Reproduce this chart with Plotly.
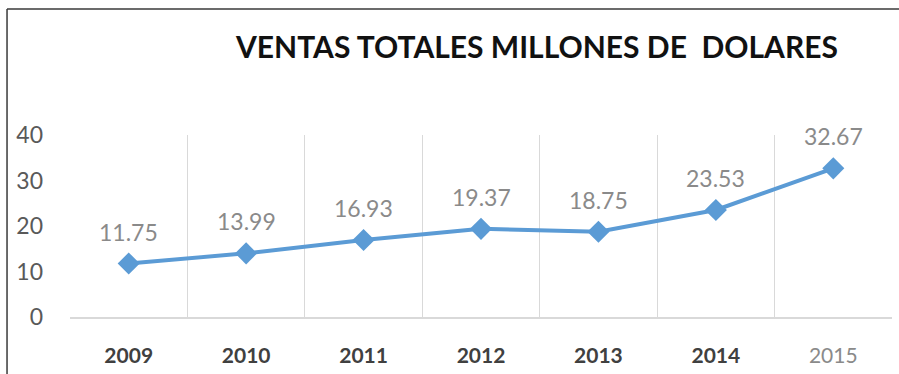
import plotly.graph_objects as go

years = ["2009", "2010", "2011", "2012", "2013", "2014", "2015"]
ventas = [11.75, 13.99, 16.93, 19.37, 18.75, 23.53, 32.67]
y_ticks = [0, 10, 20, 30, 40]
title_text = "VENTAS TOTALES MILLONES DE  DOLARES"

FONT = "Lato"
ticktext = [f"<b>{y}</b>" for y in years[:-1]] + [f"<span style='color:#8a8a8a'>{years[-1]}</span>"]

fig = go.Figure()
fig.add_trace(go.Scatter(
    x=years, y=ventas, mode="lines+markers",
    line=dict(color="#5B9BD5", width=4),
    marker=dict(symbol="diamond", size=17, color="#5B9BD5"),
    hoverinfo="x+y", showlegend=False, cliponaxis=False,
))

for i, v in enumerate(ventas):
    fig.add_annotation(x=i, y=v, xref="x", yref="y", text=f"{v:.2f}", showarrow=False, yshift=32,
                       font=dict(family=FONT, size=23, color="#8a8a8a"))

fig.add_annotation(xref="paper", yref="paper", x=0.568, y=1.49, text=f"<b>{title_text}</b>",
                   showarrow=False, xanchor="center", yanchor="middle",
                   font=dict(family=FONT, size=30, color="#111111"))

# outer border (top + left)
fig.add_shape(type="line", xref="paper", yref="paper", x0=-0.0766, x1=1.02, y0=1.692, y1=1.692,
              line=dict(color="#3a3a3a", width=1.5))
fig.add_shape(type="line", xref="paper", yref="paper", x0=-0.0766, x1=-0.0766, y0=1.692, y1=-0.35,
              line=dict(color="#3a3a3a", width=1.5))

fig.update_layout(
    width=899, height=374,
    margin=dict(l=70, r=7, t=135, b=54),
    paper_bgcolor="white", plot_bgcolor="white",
    font=dict(family=FONT),
    xaxis=dict(
        type="category", range=[-0.5, 6.5], tickson="boundaries",
        tickvals=years, ticktext=ticktext,
        showgrid=True, gridcolor="#d9d9d9", gridwidth=1,
        showline=True, linecolor="#d9d9d9", linewidth=1.5,
        ticks="", ticklabelstandoff=19,
        tickfont=dict(family=FONT, size=21, color="#404040"),
        zeroline=False,
    ),
    yaxis=dict(
        range=[0, 40], tickvals=y_ticks, showgrid=False, zeroline=False,
        showline=False, ticks="", ticklabelstandoff=26,
        tickfont=dict(family=FONT, size=23, color="#595959"),
    ),
)

fig.write_html("out.html")
